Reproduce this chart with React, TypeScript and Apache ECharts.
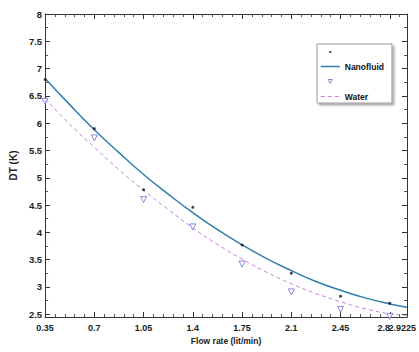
import React, { useEffect, useRef } from "react";
import * as echarts from "echarts";

// Measured points (flow rate in lit/min, DT in K)
const flowRates = [0.35, 0.7, 1.05, 1.4, 1.75, 2.1, 2.45, 2.8];
const nanofluidMeasured = [6.8, 5.9, 4.78, 4.46, 3.77, 3.25, 2.83, 2.7];
const waterMeasured = [6.4, 5.73, 4.6, 4.1, 3.42, 2.91, 2.59, 2.46];

// Fitted curves
const fitX = [0.35, 0.525, 0.7, 0.875, 1.05, 1.225, 1.4, 1.575, 1.75, 1.925, 2.1, 2.275, 2.45, 2.625, 2.8, 2.9225];
const nanofluidFit = [6.82, 6.34, 5.88, 5.46, 5.06, 4.7, 4.36, 4.05, 3.77, 3.52, 3.3, 3.1, 2.94, 2.8, 2.69, 2.63];
const waterFit = [6.45, 5.98, 5.56, 5.15, 4.77, 4.42, 4.08, 3.78, 3.51, 3.27, 3.06, 2.88, 2.73, 2.6, 2.51, 2.48];

const seriesNames = [" ", "Nanofluid", "  ", "Water"];
const xAxisTitle = "Flow rate (lit/min)";
const yAxisTitle = "DT (K)";
const X_MIN = 0.35;
const X_MAX = 2.9225;
const X_STEP = 0.35;
const X_LAST_TICK = 2.8;
const Y_MIN = 2.45;
const Y_MAX = 8;

const FONT = "'Liberation Sans Narrow', 'Liberation Sans', Arial, sans-serif";
const AX = { color: "#333", width: 1 };
const GRID = { left: 34, top: 14, right: 12, bottom: 35, containLabel: false };

function pairs(xs: number[], ys: number[]) {
  return xs.map((x, i) => [x, ys[i]]);
}
const fmt = (v: number) => String(Number(v.toFixed(4)));
const near = (a: number, b: number) => Math.abs(a - b) < 1e-9;

const tickLabel = {
  fontSize: 9,
  fontFamily: FONT,
  fontWeight: "bold",
  color: "#222",
};

function xAx(pos: "bottom" | "top") {
  const main = pos === "bottom";
  return {
    type: "value",
    gridIndex: 0,
    position: pos,
    min: X_MIN,
    max: X_MAX,
    interval: X_STEP,
    axisLine: { show: true, onZero: false, lineStyle: AX },
    axisTick: { show: true, inside: true, length: 5, lineStyle: AX },
    minorTick: { show: true, splitNumber: 5, length: 3, lineStyle: { color: "#555", width: 1 } },
    splitLine: { show: false },
    axisLabel: {
      show: main,
      margin: 6,
      ...tickLabel,
      showMinLabel: true,
      showMaxLabel: false,
      formatter: (v: number) => (near(v, X_LAST_TICK) ? `{a|${fmt(v)}}` : fmt(v)),
      rich: { a: { ...tickLabel, padding: [0, 12, 0, 0] } },
    },
    name: main ? xAxisTitle : "",
    nameLocation: "middle",
    nameGap: 18,
    nameTextStyle: { fontSize: 8.5, fontFamily: FONT, fontWeight: "bold", color: "#222" },
  };
}

function yAx(pos: "left" | "right") {
  const main = pos === "left";
  return {
    type: "value",
    gridIndex: 0,
    position: pos,
    min: Y_MIN,
    max: Y_MAX,
    splitNumber: 11,
    axisLine: { show: true, onZero: false, lineStyle: AX },
    axisTick: { show: true, inside: true, length: 5, lineStyle: AX },
    minorTick: { show: true, splitNumber: 2, length: 3, lineStyle: { color: "#555", width: 1 } },
    splitLine: { show: false },
    axisLabel: {
      show: main,
      margin: 3,
      ...tickLabel,
      fontSize: 9.5,
      showMinLabel: false,
      showMaxLabel: true,
    },
    name: main ? yAxisTitle : "",
    nameLocation: "middle",
    nameRotate: 90,
    nameGap: 18,
    nameTextStyle: { fontSize: 10, fontFamily: FONT, fontWeight: "bold", color: "#222" },
  };
}

export default function App() {
  const ref = useRef<HTMLDivElement>(null);
  useEffect(() => {
    const chart = echarts.init(ref.current!, null, { renderer: "svg" });
    chart.setOption({
      animation: false,
      backgroundColor: "#fff",
      grid: [GRID, GRID],
      xAxis: [
        xAx("bottom"),
        xAx("top"),
        // overlay axis carrying only the end-of-range label (kept apart so both labels show)
        {
          type: "value",
          gridIndex: 1,
          position: "bottom",
          min: X_MIN,
          max: X_MAX,
          interval: X_STEP,
          axisLine: { show: false },
          axisTick: { show: false },
          splitLine: { show: false },
          axisLabel: {
            margin: 6,
            ...tickLabel,
            showMinLabel: false,
            showMaxLabel: true,
            formatter: (v: number) => (near(v, X_MAX) ? `{b|${fmt(v)}}` : ""),
            rich: { b: { ...tickLabel, padding: [0, 6, 0, 0] } },
          },
        },
      ],
      yAxis: [
        yAx("left"),
        yAx("right"),
        {
          type: "value",
          gridIndex: 1,
          min: Y_MIN,
          max: Y_MAX,
          show: false,
          splitLine: { show: false },
        },
      ],
      legend: {
        orient: "vertical",
        left: 317,
        top: 44,
        align: "left",
        padding: [3, 8, 2, 3],
        itemWidth: 19,
        itemHeight: 10,
        itemGap: 5,
        backgroundColor: "#fff",
        borderColor: "#999",
        borderWidth: 1,
        shadowColor: "rgba(0,0,0,0.35)",
        shadowOffsetX: 2,
        shadowOffsetY: 2,
        shadowBlur: 2,
        textStyle: { fontFamily: FONT, fontSize: 8.5, fontWeight: "bold", color: "#111" },
        data: [
          { name: seriesNames[0], icon: "path://M0 0M19 10M8.5 4h2v2h-2z", itemStyle: { borderWidth: 0 } },
          { name: seriesNames[1], lineStyle: { width: 1.5 }, itemStyle: { opacity: 0 } },
          { name: seriesNames[2], icon: "path://M0 0M19 10M7.5 3h4l-2 4z", itemStyle: { borderWidth: 1 } },
          { name: seriesNames[3], lineStyle: { width: 1 }, itemStyle: { opacity: 0 } },
        ],
      },
      series: [
        {
          name: seriesNames[0],
          type: "scatter",
          xAxisIndex: 0,
          yAxisIndex: 0,
          data: pairs(flowRates, nanofluidMeasured),
          symbol: "circle",
          symbolSize: 3,
          itemStyle: { color: "#111" },
          z: 5,
        },
        {
          name: seriesNames[1],
          type: "line",
          xAxisIndex: 0,
          yAxisIndex: 0,
          data: pairs(fitX, nanofluidFit),
          smooth: true,
          symbol: "none",
          lineStyle: { color: "#2e7fae", width: 1.5 },
          itemStyle: { color: "#2e7fae" },
          z: 3,
        },
        {
          name: seriesNames[2],
          type: "scatter",
          xAxisIndex: 0,
          yAxisIndex: 0,
          data: pairs(flowRates, waterMeasured),
          symbol: "triangle",
          symbolRotate: 180,
          symbolSize: 6,
          itemStyle: { color: "#fff", borderColor: "#6f6ad8", borderWidth: 1 },
          z: 5,
        },
        {
          name: seriesNames[3],
          type: "line",
          xAxisIndex: 0,
          yAxisIndex: 0,
          data: pairs(fitX, waterFit),
          smooth: true,
          symbol: "none",
          lineStyle: { color: "#c77fd9", width: 1, type: [4, 3] },
          itemStyle: { color: "#c77fd9" },
          z: 3,
        },
      ],
    });
    return () => chart.dispose();
  }, []);
  return (
    <div
      ref={ref}
      style={{ position: "absolute", left: 0, top: 0, width: 419, height: 352, background: "#fff" }}
    />
  );
}
